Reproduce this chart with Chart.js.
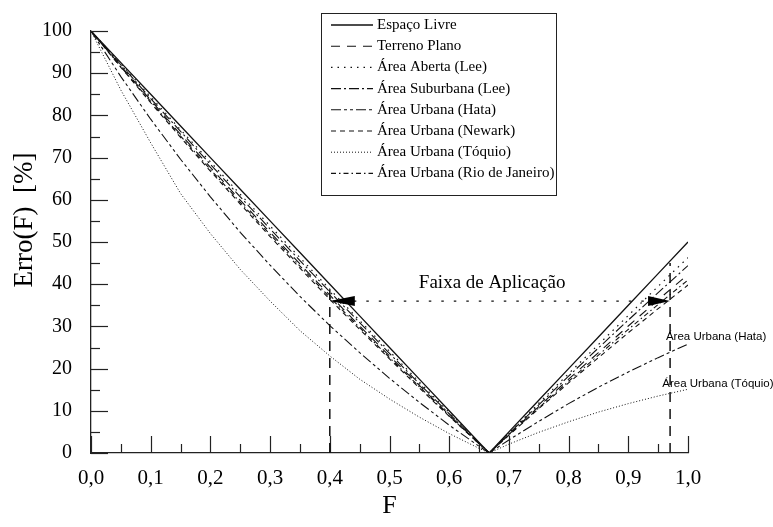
<!DOCTYPE html>
<html><head><meta charset="utf-8">
<script src="https://cdn.jsdelivr.net/npm/chart.js@4.4.0/dist/chart.umd.min.js"></script>
<style>html,body{margin:0;padding:0;background:#fff;}canvas{display:block;}</style>
</head><body>
<canvas id="c" width="773" height="527"></canvas>
<script>
// ---- data ----
const F = [0, 0.05, 0.1, 0.15, 0.2, 0.25, 0.3, 0.35, 0.4, 0.45, 0.5, 0.55, 0.6, 0.65, 0.667, 0.7, 0.75, 0.8, 0.85, 0.9, 0.95, 1.0];
const espacoLivre   = [100, 92.5, 85, 77.5, 70, 62.5, 55, 47.5, 40, 32.5, 25, 17.5, 10, 2.5, 0, 5, 12.5, 20, 27.5, 35, 42.5, 50];
const terrenoPlano  = [100, 91.7, 83.6, 75.5, 67.7, 59.9, 52.3, 44.8, 37.4, 30.1, 23.0, 16.0, 9.0, 2.2, 0, 4.4, 11.0, 17.5, 23.8, 30.1, 36.3, 42.3];
const areaAberta    = [100, 92.2, 84.4, 76.6, 69.0, 61.3, 53.8, 46.3, 38.8, 31.4, 24.1, 16.8, 9.6, 2.4, 0, 4.7, 11.8, 18.8, 25.7, 32.6, 39.5, 46.3];
const areaSuburbana = [100, 92.0, 84.0, 76.2, 68.4, 60.7, 53.1, 45.6, 38.2, 30.9, 23.6, 16.4, 9.3, 2.3, 0, 4.6, 11.4, 18.2, 24.9, 31.5, 38.0, 44.4];
const urbanaHata    = [100, 89.2, 79.1, 69.6, 60.7, 52.3, 44.5, 37.1, 30.2, 23.8, 17.7, 12.0, 6.6, 1.6, 0, 3.1, 7.5, 11.7, 15.6, 19.2, 22.6, 25.8];
const urbanaNewark  = [100, 91.4, 83.0, 74.8, 66.8, 59.0, 51.3, 43.8, 36.4, 29.3, 22.3, 15.4, 8.7, 2.2, 0, 4.2, 10.5, 16.6, 22.6, 28.5, 34.2, 39.8];
const urbanaToquio  = [100, 86.0, 73.5, 61.5, 52.0, 43.5, 36.0, 29.0, 23.0, 17.5, 12.8, 8.5, 4.6, 1.1, 0, 2.1, 4.9, 7.4, 9.7, 11.7, 13.5, 15.1];
const urbanaRio     = [100, 91.5, 83.3, 75.1, 67.2, 59.4, 51.8, 44.3, 36.9, 29.7, 22.6, 15.7, 8.8, 2.2, 0, 4.3, 10.7, 17.0, 23.2, 29.3, 35.2, 41.0];

const seriesNames = ['Espaço Livre', 'Terreno Plano', 'Área Aberta (Lee)', 'Área Suburbana (Lee)',
  'Área Urbana (Hata)', 'Área Urbana (Newark)', 'Área Urbana (Tóquio)', 'Área Urbana (Rio de Janeiro)'];
const seriesValues = [espacoLivre, terrenoPlano, areaAberta, areaSuburbana, urbanaHata, urbanaNewark, urbanaToquio, urbanaRio];
const xTickLabels = ['0,0','0,1','0,2','0,3','0,4','0,5','0,6','0,7','0,8','0,9','1,0'];
const yTickValues = [0,10,20,30,40,50,60,70,80,90,100];

// annotation values
const faixaStart = 0.4, faixaEnd = 0.97, faixaLevel = 36;
const faixaLeftTop = 40, faixaRightTop = 45;
const faixaText = 'Faixa de Aplicação';
const sideLabels = [{text: 'Área Urbana (Hata)', x: 0.963, y: 27.6}, {text: 'Área Urbana (Tóquio)', x: 0.957, y: 16.3}];

// ---- styles ----
const dashes = [[], [9, 7], [1.5, 5], [10, 3, 2, 3], [10, 3, 3, 3, 3, 3], [5, 4], [1, 2], [5, 3, 1.5, 3]];
const widths = [1.3, 1.1, 1.2, 1.1, 1.1, 1.1, 1.0, 1.1];
const SERIF = '"Liberation Serif", "Times New Roman", serif';
const SANS = '"Liberation Sans", Arial, sans-serif';

const datasets = seriesNames.map((name, i) => ({
  label: name,
  data: F.map((f, j) => ({x: f, y: seriesValues[i][j]})),
  borderColor: '#111',
  borderWidth: widths[i],
  borderDash: dashes[i],
  pointRadius: 0,
  tension: 0,
  fill: false
}));

function seg(ctx, x1, y1, x2, y2) { ctx.beginPath(); ctx.moveTo(x1, y1); ctx.lineTo(x2, y2); ctx.stroke(); }

const decor = {
  id: 'decor',
  afterDatasetsDraw(chart) {
    const {ctx, chartArea: a} = chart;
    const x = chart.scales.x, y = chart.scales.y;
    ctx.save();
    // inward ticks
    ctx.strokeStyle = '#222'; ctx.lineWidth = 1.2; ctx.setLineDash([]);
    for (let i = 0; i <= 20; i++) {
      const px = Math.round(x.getPixelForValue(i * 0.05)) + 0.5;
      seg(ctx, px, a.bottom, px, a.bottom - (i % 2 === 0 ? 17 : 9));
    }
    for (let i = 0; i <= 20; i++) {
      const py = Math.round(y.getPixelForValue(i * 5)) + 0.5;
      seg(ctx, a.left, py, a.left + (i % 2 === 0 ? 17 : 9), py);
    }
    // vertical dashed lines
    ctx.lineWidth = 1.5; ctx.setLineDash([10, 7]); ctx.strokeStyle = '#111';
    let xl = x.getPixelForValue(faixaStart), xr = x.getPixelForValue(faixaEnd);
    seg(ctx, xl, y.getPixelForValue(0), xl, y.getPixelForValue(faixaLeftTop));
    seg(ctx, xr, y.getPixelForValue(0), xr, y.getPixelForValue(faixaRightTop));
    // dotted horizontal arrow
    const ya = y.getPixelForValue(faixaLevel);
    ctx.lineWidth = 1.3; ctx.setLineDash([2.5, 10]);
    seg(ctx, xl + 24, ya, xr - 22, ya);
    ctx.setLineDash([]); ctx.fillStyle = '#000';
    ctx.beginPath(); ctx.moveTo(xl, ya); ctx.lineTo(xl + 25, ya - 5); ctx.lineTo(xl + 25, ya + 5); ctx.closePath(); ctx.fill();
    ctx.beginPath(); ctx.moveTo(xr, ya); ctx.lineTo(xr - 22, ya - 5); ctx.lineTo(xr - 22, ya + 5); ctx.closePath(); ctx.fill();
    // Faixa text
    ctx.font = '19px ' + SERIF; ctx.textAlign = 'center'; ctx.textBaseline = 'alphabetic';
    ctx.fillText(faixaText, x.getPixelForValue(0.672), y.getPixelForValue(39.2));
    // side labels
    ctx.font = '11.5px ' + SANS; ctx.textAlign = 'left'; ctx.textBaseline = 'middle';
    sideLabels.forEach(l => ctx.fillText(l.text, x.getPixelForValue(l.x), y.getPixelForValue(l.y)));
    // legend
    const lx = 321.5, ly = 13.5, lw = 235, lh = 182;
    ctx.fillStyle = '#fff'; ctx.fillRect(lx, ly, lw, lh);
    ctx.strokeStyle = '#222'; ctx.lineWidth = 1; ctx.strokeRect(lx, ly, lw, lh);
    ctx.fillStyle = '#000'; ctx.font = '15px ' + SERIF; ctx.textBaseline = 'middle'; ctx.textAlign = 'left';
    chart.data.datasets.forEach((ds, i) => {
      const ry = 25 + i * 21.2;
      ctx.strokeStyle = '#111'; ctx.lineWidth = ds.borderWidth; ctx.setLineDash(ds.borderDash);
      seg(ctx, 331, ry, 373, ry);
      ctx.setLineDash([]);
      ctx.fillText(ds.label, 377, ry);
    });
    // axis titles
    ctx.font = '26px ' + SERIF; ctx.textAlign = 'center'; ctx.textBaseline = 'middle';
    ctx.fillText('F', x.getPixelForValue(0.5), 506);
    ctx.font = '27px ' + SERIF;
    ctx.translate(25, 220); ctx.rotate(-Math.PI / 2);
    ctx.fillText('Erro(F)  [%]', 0, 0);
    ctx.restore();
  }
};

new Chart(document.getElementById('c').getContext('2d'), {
  type: 'line',
  data: {datasets},
  options: {
    responsive: false, animation: false, devicePixelRatio: 1,
    layout: {padding: {left: 0, right: 85, top: 29, bottom: 0}},
    plugins: {legend: {display: false}, tooltip: {enabled: false}},
    scales: {
      x: {
        type: 'linear', min: 0, max: 1,
        ticks: {stepSize: 0.1, autoSkip: false, maxRotation: 0, padding: 13, color: '#000',
          font: {family: SERIF, size: 21},
          callback: (v) => xTickLabels[Math.round(v * 10)]},
        grid: {display: false, drawTicks: false},
        border: {display: true, color: '#222', width: 1.3},
        afterFit: (s) => { s.height = 74; }
      },
      y: {
        type: 'linear', min: 0, max: 100,
        afterBuildTicks: (s) => { s.ticks = yTickValues.map(v => ({value: v})); },
        ticks: {padding: 19, color: '#000', font: {family: SERIF, size: 20}},
        grid: {display: false, drawTicks: false},
        border: {display: true, color: '#222', width: 1.3},
        afterFit: (s) => { s.width = 91; }
      }
    }
  },
  plugins: [decor]
});
</script>
</body></html>
